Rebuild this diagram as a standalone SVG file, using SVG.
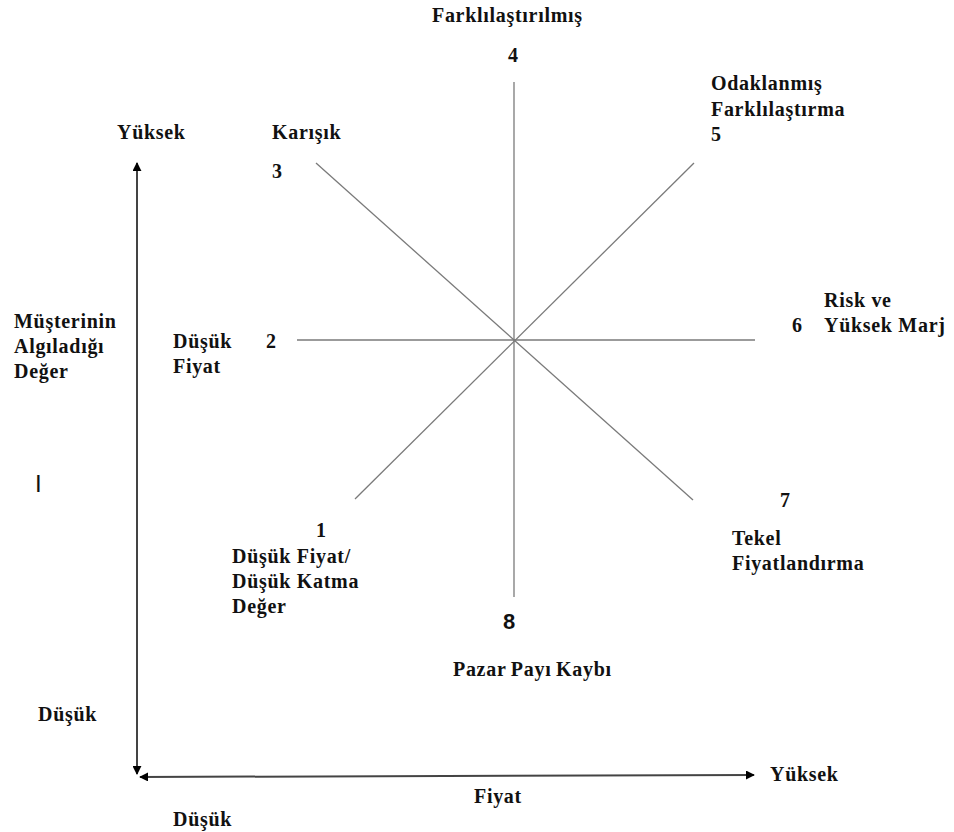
<svg xmlns="http://www.w3.org/2000/svg" width="954" height="832" viewBox="0 0 954 832">
  <style>
    .t { font-family: "Liberation Serif", "Times New Roman", serif; font-weight: bold; font-size: 20px; letter-spacing: 0.7px; fill: #111; }
    .n { font-family: "Liberation Sans", Arial, sans-serif; font-weight: bold; font-size: 22px; fill: #111; }
    .star { stroke: #7a7a7a; stroke-width: 1.3; fill: none; }
    .axis { stroke: #444; stroke-width: 2; fill: none; }
  </style>
  <defs>
    <marker id="tip" viewBox="0 0 10 10" refX="9" refY="5" markerWidth="9" markerHeight="9" markerUnits="userSpaceOnUse" orient="auto-start-reverse">
      <path d="M0,0 L10,5 L0,10 z" fill="#000"/>
    </marker>
  </defs>
  <rect width="954" height="832" fill="#fff"/>

  <!-- star of strategy directions -->
  <g id="connectors">
    <line class="star" x1="514" y1="82" x2="514" y2="597"/>
    <line class="star" x1="297" y1="340" x2="755" y2="340"/>
    <line class="star" x1="316" y1="163" x2="693" y2="500"/>
    <line class="star" x1="694" y1="163" x2="355" y2="499"/>
    <!-- axes -->
    <line class="axis" x1="137" y1="774" x2="137" y2="163" marker-start="url(#tip)" marker-end="url(#tip)"/>
    <line class="axis" x1="140" y1="777" x2="754" y2="775" marker-start="url(#tip)" marker-end="url(#tip)"/>
  </g>

  <g id="node-4">
    <text class="t" x="432" y="22">Farklılaştırılmış</text>
    <text class="t" x="508" y="62">4</text>
  </g>
  <g id="node-3">
    <text class="t" x="272" y="139">Karışık</text>
    <text class="t" x="272" y="178">3</text>
  </g>
  <g id="node-5">
    <text class="t" x="711" y="90">Odaklanmış</text>
    <text class="t" x="711" y="116">Farklılaştırma</text>
    <text class="t" x="711" y="141">5</text>
  </g>
  <g id="node-2">
    <text class="t" x="173" y="348">Düşük</text>
    <text class="t" x="173" y="373">Fiyat</text>
    <text class="t" x="266" y="348">2</text>
  </g>
  <g id="node-6">
    <text class="t" x="824" y="307">Risk ve</text>
    <text class="t" x="792" y="332">6</text>
    <text class="t" x="824" y="332">Yüksek Marj</text>
  </g>
  <g id="node-1">
    <text class="t" x="316" y="537">1</text>
    <text class="t" x="232" y="563">Düşük Fiyat/</text>
    <text class="t" x="232" y="588">Düşük Katma</text>
    <text class="t" x="232" y="613">Değer</text>
  </g>
  <g id="node-7">
    <text class="t" x="780" y="507">7</text>
    <text class="t" x="732" y="545">Tekel</text>
    <text class="t" x="732" y="570">Fiyatlandırma</text>
  </g>
  <g id="node-8">
    <text class="n" x="503" y="629">8</text>
    <text class="t" x="453" y="676" letter-spacing="0.3" word-spacing="-1">Pazar Payı Kaybı</text>
  </g>

  <g id="axis-labels">
    <text class="t" x="117" y="139">Yüksek</text>
    <text class="t" x="14" y="328">Müşterinin</text>
    <text class="t" x="14" y="353">Algıladığı</text>
    <text class="t" x="14" y="378">Değer</text>
    <text font-family="Liberation Sans, Arial, sans-serif" font-size="24" fill="#111" x="35" y="492">I</text>
    <text class="t" x="38" y="721">Düşük</text>
    <text class="t" x="770" y="781">Yüksek</text>
    <text class="t" x="474" y="803">Fiyat</text>
    <text class="t" x="173" y="826">Düşük</text>
  </g>
</svg>
